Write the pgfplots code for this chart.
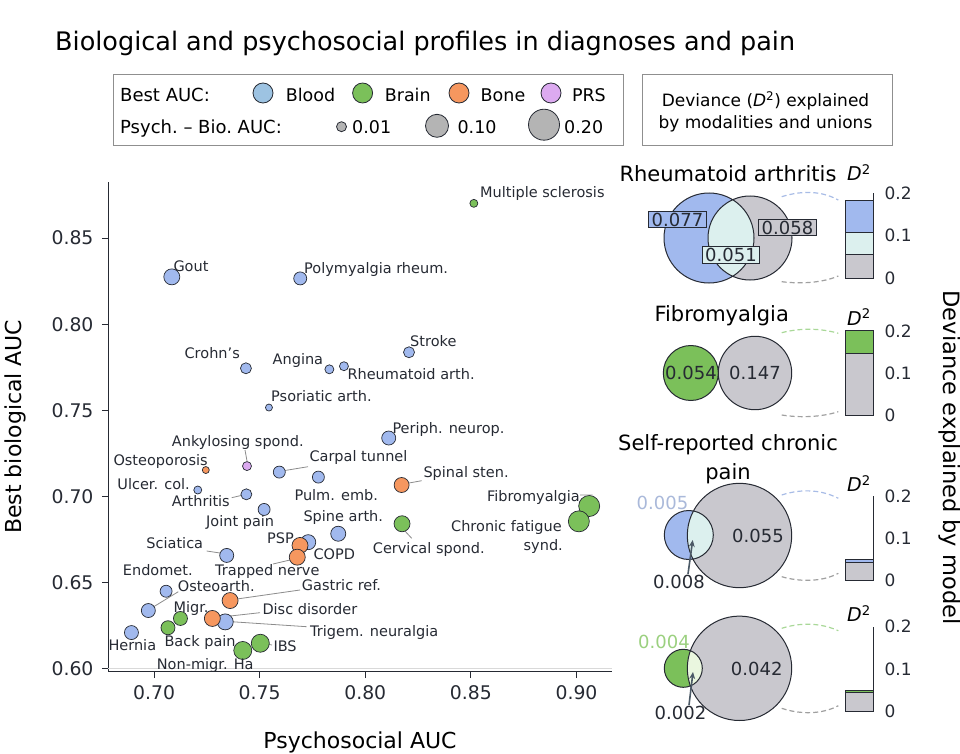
\documentclass[border=0pt]{standalone}
\usepackage{fontspec}
\setmainfont{DejaVu Sans}
\usepackage{pgfplots}
\usepackage{pgfplotstable}
\pgfplotsset{compat=1.18}
\usetikzlibrary{arrows.meta}

\newcommand\fs[1]{\fontsize{#1}{#1}\selectfont}

\definecolor{blood}{HTML}{A1B9EE}
\definecolor{brain}{HTML}{7BC05A}
\definecolor{bone}{HTML}{F6975F}
\definecolor{prs}{HTML}{DCAAF0}
\definecolor{lgblood}{HTML}{9DC3E2}
\definecolor{lggray}{HTML}{B4B4B4}
\definecolor{psy}{HTML}{C9C8CE}
\definecolor{inter}{HTML}{DCF0EE}
\definecolor{intergr}{HTML}{EAF7DF}
\definecolor{edge}{HTML}{262A33}
\definecolor{leader}{HTML}{8C8C8C}
\definecolor{boxc}{HTML}{8F8F8F}
\definecolor{lblue}{HTML}{AAB9DA}
\definecolor{lgreen}{HTML}{9BD07F}
\definecolor{arcblue}{HTML}{A8BCE6}
\definecolor{arcgray}{HTML}{A0A0A0}
\definecolor{arcgreen}{HTML}{A9D898}
\definecolor{arrowc}{HTML}{4B5966}

% x = psychosocial AUC, y = best biological AUC, r = marker radius (pt)
\pgfplotstableread{
x      y      r
0.7084 0.8275 8.0
0.7692 0.8266 6.5
0.7435 0.7744 5.5
0.7830 0.7738 4.5
0.7899 0.7756 4.5
0.8207 0.7837 5.5
0.7544 0.7516 3.5
0.8111 0.7339 7.0
0.7593 0.7141 6.0
0.7778 0.7112 6.0
0.7207 0.7037 4.0
0.7437 0.7012 5.5
0.7521 0.6924 6.0
0.7872 0.6783 7.5
0.7730 0.6734 7.5
0.7344 0.6657 7.0
0.7057 0.6449 6.0
0.6973 0.6337 7.0
0.7337 0.6271 8.0
0.6893 0.6209 7.0
}\bloodtab

\pgfplotstableread{
x      y      r
0.8514 0.8702 4.0
0.9060 0.6944 10.5
0.9011 0.6855 10.5
0.8174 0.6841 8.0
0.7125 0.6291 7.0
0.7066 0.6237 7.0
0.7503 0.6147 9.0
0.7420 0.6105 9.0
}\braintab

\pgfplotstableread{
x      y      r
0.7245 0.7153 3.5
0.8172 0.7066 7.5
0.7691 0.6715 8.0
0.7678 0.6647 8.0
0.7360 0.6395 8.0
0.7276 0.6291 8.0
}\bonetab

\pgfplotstableread{
x      y      r
0.7440 0.7176 4.5
}\prstab

\pgfplotsset{
  bub/.style={scatter, only marks, mark=*,
    scatter/use mapped color={draw=edge, fill=#1, line width=0.7pt},
    visualization depends on={\thisrow{r}\as\rr},
    scatter/@pre marker code/.append style={/tikz/mark size=\rr pt}},
  canvas/.style={at={(0pt,0pt)}, anchor=south west, scale only axis,
    width=960pt, height=754pt, xmin=0, xmax=960, ymin=0, ymax=754,
    y dir=reverse, hide axis, clip=false},
  dbar/.style={anchor=south west, scale only axis, width=28pt, height=85pt,
    xmin=0, xmax=1, ymin=0, ymax=0.2,
    ybar stacked, bar width=28pt,
    axis x line=none, axis y line=right,
    axis line style={-, edge, line width=1pt},
    ytick={0,0.1,0.2}, yticklabels={0,0.1,0.2},
    major tick length=0pt,
    yticklabel style={font=\fs{17}, text=edge, xshift=8pt},
    clip=false},
}
\tikzset{
  lab/.style={anchor=base west, inner sep=0pt, font=\fs{14.5}, text=edge},
  labr/.style={anchor=base east, inner sep=0pt, font=\fs{14.5}, text=edge},
  num/.style={inner sep=0pt, font=\fs{18}, text=edge},
}

\begin{document}
\begin{tikzpicture}

% leader lines, under the points
\begin{axis}[canvas]
\draw[leader, line width=0.8pt]
  (247,461) -- (245,450)
  (285,470.5) -- (308,466.7)
  (409,483) -- (421.7,480.7)
  (241,495.5) -- (231.7,497.7)
  (580,495) -- (592.7,495)
  (404,530) -- (411.7,538.3)
  (206.7,551) -- (220,553)
  (290,560) -- (273,564)
  (148.3,610) -- (178.3,591.7)
  (230,600) -- (300,590)
  (212.3,618) -- (260,612.7)
  (225.3,621.3) -- (306.7,626.7)
  (260,642.7) -- (272,645);
\end{axis}

% main scatter
\begin{axis}[
  at={(108pt,82pt)}, anchor=south west,
  scale only axis, width=504pt, height=490pt,
  xmin=0.6782, xmax=0.9168, ymin=0.598, ymax=0.8826,
  axis x line*=bottom, axis y line*=left,
  axis line style={-, edge, line width=1pt},
  tick align=outside, major tick length=6pt,
  tick style={edge, line width=1pt},
  xtick={0.70,0.75,0.80,0.85,0.90},
  xticklabels={0.70,0.75,0.80,0.85,0.90},
  ytick={0.60,0.65,0.70,0.75,0.80,0.85},
  yticklabels={0.60,0.65,0.70,0.75,0.80,0.85},
  ticklabel style={font=\fs{18.8}, text=edge},
  every x tick label/.append style={yshift=-4pt},
  every y tick label/.append style={xshift=-5pt},
]
\addplot[black!15, line width=0.8pt] coordinates {(0.6782,0.60) (0.9168,0.60)};
\addplot[bub=blood] table[x=x, y=y] {\bloodtab};
\addplot[bub=brain] table[x=x, y=y] {\braintab};
\addplot[bub=bone] table[x=x, y=y] {\bonetab};
\addplot[bub=prs] table[x=x, y=y] {\prstab};
\end{axis}

% stacked D^2 bars
\begin{axis}[dbar, at={(845pt,475.7pt)}]
\addplot[fill=psy, draw=edge, line width=0.7pt] coordinates {(0.5,0.057)};
\addplot[fill=inter, draw=edge, line width=0.7pt] coordinates {(0.5,0.050)};
\addplot[fill=blood, draw=edge, line width=0.7pt] coordinates {(0.5,0.077)};
\end{axis}
\begin{axis}[dbar, at={(845pt,339pt)}, height=84pt]
\addplot[fill=psy, draw=edge, line width=0.7pt] coordinates {(0.5,0.147)};
\addplot[fill=brain, draw=edge, line width=0.7pt] coordinates {(0.5,0.054)};
\end{axis}
\begin{axis}[dbar, at={(845pt,173.5pt)}, height=84.5pt]
\addplot[fill=psy, draw=edge, line width=0.7pt] coordinates {(0.5,0.044)};
\addplot[fill=blood, draw=edge, line width=0.7pt] coordinates {(0.5,0.005)};
\end{axis}
\begin{axis}[dbar, at={(845pt,42.3pt)}]
\addplot[fill=psy, draw=edge, line width=0.7pt] coordinates {(0.5,0.045)};
\addplot[fill=brain, draw=edge, line width=0.7pt] coordinates {(0.5,0.005)};
\end{axis}

% texts, legend and Venn diagrams
\begin{axis}[canvas]
% title
\node[anchor=base west, inner sep=0pt, font=\fs{25.5}, text=black] at (55,51) {Biological and psychosocial profiles in diagnoses and pain};

% legend boxes
\draw[boxc, line width=0.9pt] (113,74) rectangle (623,145);
\draw[boxc, line width=0.9pt] (642,74) rectangle (892,145);
\node[anchor=base west, inner sep=0pt, font=\fs{18}] at (120,101.5) {Best AUC:};
\node[anchor=base west, inner sep=0pt, font=\fs{18}] at (120,133.3) {Psych.\ -- Bio.\ AUC:};
\addplot[only marks, mark=*, mark size=10pt, mark options={fill=lgblood, draw=edge, line width=0.8pt}] coordinates {(263,93)};
\addplot[only marks, mark=*, mark size=10pt, mark options={fill=brain, draw=edge, line width=0.8pt}] coordinates {(362.6,93)};
\addplot[only marks, mark=*, mark size=10pt, mark options={fill=bone, draw=edge, line width=0.8pt}] coordinates {(459,93)};
\addplot[only marks, mark=*, mark size=10pt, mark options={fill=prs, draw=edge, line width=0.8pt}] coordinates {(551,93)};
\addplot[only marks, mark=*, mark size=5pt, mark options={fill=lggray, draw=edge, line width=0.8pt}] coordinates {(341.5,126.7)};
\addplot[only marks, mark=*, mark size=11.5pt, mark options={fill=lggray, draw=edge, line width=0.8pt}] coordinates {(437,125.8)};
\addplot[only marks, mark=*, mark size=15.5pt, mark options={fill=lggray, draw=edge, line width=0.8pt}] coordinates {(544,124.7)};
\node[anchor=base west, inner sep=0pt, font=\fs{17.5}] at (285.6,101.5) {Blood};
\node[anchor=base west, inner sep=0pt, font=\fs{17.5}] at (384.6,101.5) {Brain};
\node[anchor=base west, inner sep=0pt, font=\fs{17.5}] at (480.5,101.5) {Bone};
\node[anchor=base west, inner sep=0pt, font=\fs{17.5}] at (571.8,101.5) {PRS};
\node[anchor=base west, inner sep=0pt, font=\fs{17.5}] at (352,133.3) {0.01};
\node[anchor=base west, inner sep=0pt, font=\fs{17.5}] at (457.4,133.3) {0.10};
\node[anchor=base west, inner sep=0pt, font=\fs{17.5}] at (564,133.3) {0.20};
\node[anchor=base, inner sep=0pt, font=\fs{17}] at (765.5,106.7) {Deviance (\textit{D}\textsuperscript{2}) explained};
\node[anchor=base, inner sep=0pt, font=\fs{17}] at (765.5,128.3) {by modalities and unions};

% axis labels
\node[anchor=base, inner sep=0pt, font=\fs{22}] at (360,748) {Psychosocial AUC};
\node[rotate=90, anchor=base, inner sep=0pt, font=\fs{22}] at (21.7,426.7) {Best biological AUC};
\node[rotate=-90, anchor=base, inner sep=0pt, font=\fs{22.5}] at (943,457.5) {Deviance explained by model};

% point labels
\node[lab] at (480,197.7) {Multiple sclerosis};
\node[lab] at (173.3,271.7) {Gout};
\node[lab] at (304,273.3) {Polymyalgia rheum.};
\node[labr] at (240,358.3) {Crohn's};
\node[labr] at (323.3,364.3) {Angina};
\node[lab] at (347.3,379) {Rheumatoid arth.};
\node[lab] at (410,346.7) {Stroke};
\node[lab] at (271,401.7) {Psoriatic arth.};
\node[lab] at (392.3,433.3) {Periph. neurop.};
\node[lab] at (171.7,446) {Ankylosing spond.};
\node[lab] at (113.3,465) {Osteoporosis};
\node[lab] at (309.3,461.7) {Carpal tunnel};
\node[lab] at (423.3,477.7) {Spinal sten.};
\node[labr] at (190,489.3) {Ulcer. col.};
\node[labr] at (230,506.7) {Arthritis};
\node[lab] at (294.3,500) {Pulm. emb.};
\node[labr] at (580,501) {Fibromyalgia};
\node[lab] at (206,526) {Joint pain};
\node[lab] at (303.3,521.7) {Spine arth.};
\node[labr] at (562,531.7) {Chronic fatigue};
\node[labr] at (563,550.7) {synd.};
\node[lab] at (372.7,553.3) {Cervical spond.};
\node[labr] at (294,543.3) {PSP};
\node[lab] at (313.3,559.3) {COPD};
\node[labr] at (203.3,548.3) {Sciatica};
\node[lab] at (215,575) {Trapped nerve};
\node[lab] at (122.7,575) {Endomet.};
\node[lab] at (177.7,591.7) {Osteoarth.};
\node[lab] at (301.7,590.7) {Gastric ref.};
\node[lab] at (173.3,612.3) {Migr.};
\node[lab] at (262.3,614) {Disc disorder};
\node[lab] at (310,636) {Trigem. neuralgia};
\node[lab] at (164.3,646.7) {Back pain};
\node[lab] at (108.3,650) {Hernia};
\node[lab] at (273.3,651.7) {IBS};
\node[lab] at (156.7,669.3) {Non-migr. Ha};

% panel titles
\node[anchor=base, inner sep=0pt, font=\fs{21}] at (728,182) {Rheumatoid arthritis};
\node[anchor=base, inner sep=0pt, font=\fs{21}] at (721.7,321.7) {Fibromyalgia};
\node[anchor=base, inner sep=0pt, font=\fs{21}] at (728,450.7) {Self-reported chronic};
\node[anchor=base, inner sep=0pt, font=\fs{21}] at (728,479.3) {pain};
\node[anchor=base, inner sep=0pt, font=\fs{19}] at (859,181) {\textit{D}\textsuperscript{2}};
\node[anchor=base, inner sep=0pt, font=\fs{19}] at (859,325) {\textit{D}\textsuperscript{2}};
\node[anchor=base, inner sep=0pt, font=\fs{19}] at (859,491.7) {\textit{D}\textsuperscript{2}};
\node[anchor=base, inner sep=0pt, font=\fs{19}] at (859,621.7) {\textit{D}\textsuperscript{2}};

% dashed connectors
\draw[arcblue, line width=1.2pt, dash pattern=on 5pt off 3pt] (781.7,196.7) .. controls (800,191) and (820,190) .. (838.3,200);
\draw[arcgray, line width=1.2pt, dash pattern=on 5pt off 3pt] (781.7,281.7) .. controls (800,284) and (822,283) .. (838.3,276);
\draw[arcgreen, line width=1.2pt, dash pattern=on 5pt off 3pt] (781.7,332.7) .. controls (800,328) and (820,328) .. (838.3,333.3);
\draw[arcgray, line width=1.2pt, dash pattern=on 5pt off 3pt] (781.7,415) .. controls (800,418) and (822,417) .. (838.3,411.7);
\draw[arcblue, line width=1.2pt, dash pattern=on 5pt off 3pt] (781.7,495) .. controls (800,489) and (820,489) .. (838.3,498.3);
\draw[arcgray, line width=1.2pt, dash pattern=on 5pt off 3pt] (781.7,576.7) .. controls (800,582) and (822,582) .. (838.3,573.3);
\draw[arcgreen, line width=1.2pt, dash pattern=on 5pt off 3pt] (781.7,628.3) .. controls (800,622.5) and (820,622.5) .. (838.3,630.7);
\draw[arcgray, line width=1.2pt, dash pattern=on 5pt off 3pt] (781.7,708.3) .. controls (800,714.5) and (822,714.5) .. (838.3,705.7);

% Venn: rheumatoid arthritis
\fill[blood] (709,238) circle[radius=45pt];
\fill[psy] (750,238) circle[radius=42pt];
\begin{scope}
\clip (709,238) circle[radius=45pt];
\fill[inter] (750,238) circle[radius=42pt];
\end{scope}
\draw[edge, line width=1pt] (709,238) circle[radius=45pt] (750,238) circle[radius=42pt];
\node[num, draw=edge, fill=blood, line width=0.8pt, inner xsep=3pt, inner ysep=1.5pt] at (677.5,219.5) {0.077};
\node[num, draw=edge, fill=psy, line width=0.8pt, inner xsep=3pt, inner ysep=1.5pt] at (787.5,227.5) {0.058};
\node[num, draw=edge, fill=inter, line width=0.8pt, inner xsep=3pt, inner ysep=1.5pt] at (731,255) {0.051};

% Venn: fibromyalgia
\fill[brain] (690.8,373) circle[radius=27.5pt];
\fill[psy] (755,373) circle[radius=36.7pt];
\draw[edge, line width=1pt] (690.8,373) circle[radius=27.5pt] (755,373) circle[radius=36.7pt];
\node[num] at (691,373) {0.054};
\node[num] at (755,373) {0.147};

% Venn: self-reported chronic pain, blood
\fill[blood] (688.8,535) circle[radius=24.5pt];
\fill[psy] (739.5,535.5) circle[radius=52.2pt];
\begin{scope}
\clip (688.8,535) circle[radius=24.5pt];
\fill[inter] (739.5,535.5) circle[radius=52.2pt];
\end{scope}
\draw[edge, line width=1pt] (688.8,535) circle[radius=24.5pt] (739.5,535.5) circle[radius=52.2pt];
\node[num, text=lblue] at (662.5,503) {0.005};
\node[num] at (758,536) {0.055};
\node[num] at (679,582.3) {0.008};
\draw[arrowc, line width=1.6pt, -{Stealth[length=7pt, width=6pt]}] (688,574) -- (692.7,540);

% Venn: self-reported chronic pain, brain
\fill[brain] (683.3,668.3) circle[radius=19pt];
\fill[psy] (739.5,668.3) circle[radius=52.2pt];
\begin{scope}
\clip (683.3,668.3) circle[radius=19pt];
\fill[intergr] (739.5,668.3) circle[radius=52.2pt];
\end{scope}
\draw[edge, line width=1pt] (683.3,668.3) circle[radius=19pt] (739.5,668.3) circle[radius=52.2pt];
\node[num, text=lgreen] at (664,641.7) {0.004};
\node[num] at (756.7,669) {0.042};
\node[num] at (680.5,713.3) {0.002};
\draw[arrowc, line width=1.6pt, -{Stealth[length=7pt, width=6pt]}] (689,705) -- (693,672);
\end{axis}

\pgfresetboundingbox
\useasboundingbox (0pt,0pt) rectangle (960pt,754pt);
\end{tikzpicture}
\end{document}
